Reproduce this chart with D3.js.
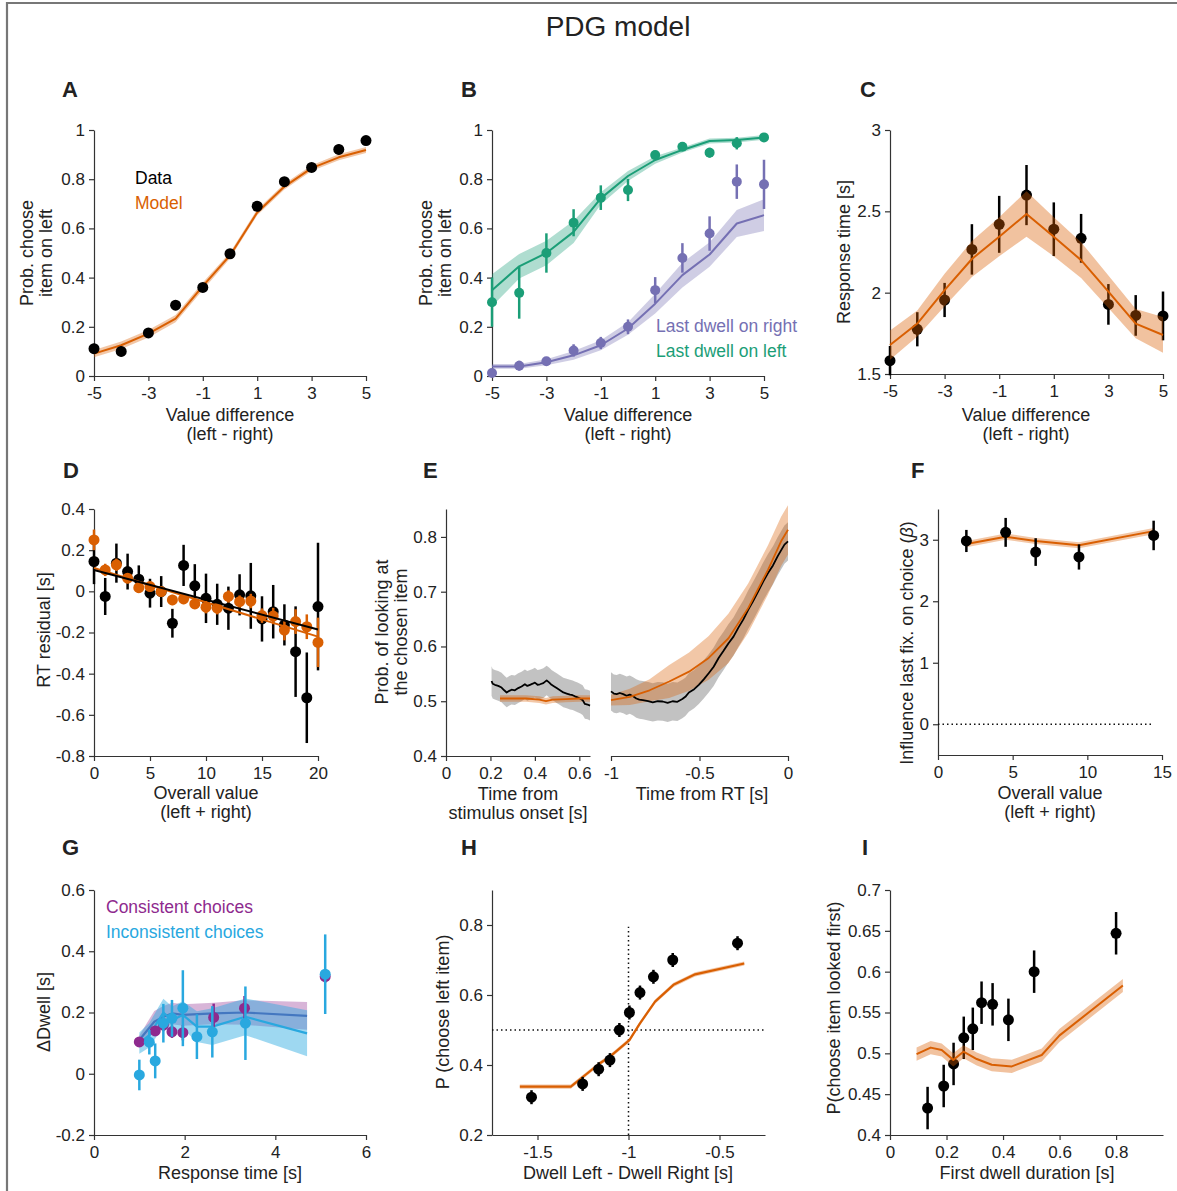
<!DOCTYPE html>
<html>
<head>
<meta charset="utf-8">
<script src="https://cdn.jsdelivr.net/npm/d3@7"></script>
<style>
  body { margin: 0; background: #fff; }
  svg { font-family: "Liberation Sans", Arial, sans-serif; }
  .axis path, .axis line { stroke: #333; stroke-width: 1.2; }
  .axis text { font-size: 17px; fill: #222; font-family: "Liberation Sans", Arial, sans-serif; }
  .lab { font-size: 18px; fill: #222; }
  .letter { font-size: 22px; font-weight: bold; fill: #222; }
</style>
</head>
<body>
<script>
// ---- data ----
const valDiff = [-5, -4, -3, -2, -1, 0, 1, 2, 3, 4, 5];
const valDiffTicks = [-5, -3, -1, 1, 3, 5];

// A
const aData = [0.111, 0.10, 0.175, 0.288, 0.36, 0.497, 0.69, 0.79, 0.848, 0.921, 0.957];
const aErr = [0.02, 0.02, 0.02, 0.02, 0.015, 0.015, 0.02, 0.015, 0.015, 0.02, 0.01];
const aModel = [0.091, 0.125, 0.172, 0.233, 0.365, 0.49, 0.665, 0.77, 0.845, 0.889, 0.919];
const aBand = [0.015, 0.015, 0.015, 0.015, 0.015, 0.012, 0.012, 0.012, 0.012, 0.012, 0.012];

// B
const bLeftData = [0.30, 0.338, 0.50, 0.623, 0.725, 0.756, 0.898, 0.932, 0.908, 0.946, 0.97];
const bLeftErr = [0.10, 0.105, 0.08, 0.055, 0.05, 0.045, 0.015, 0.015, 0.02, 0.025, 0.01];
const bLeftModel = [0.349, 0.446, 0.50, 0.586, 0.722, 0.813, 0.878, 0.919, 0.955, 0.959, 0.97];
const bLeftBand = [0.065, 0.05, 0.05, 0.045, 0.025, 0.02, 0.015, 0.01, 0.01, 0.01, 0.01];
const bRightData = [0.012, 0.042, 0.06, 0.104, 0.134, 0.20, 0.349, 0.48, 0.579, 0.79, 0.779];
const bRightErr = [0.01, 0.02, 0.015, 0.025, 0.025, 0.03, 0.053, 0.06, 0.07, 0.07, 0.10];
const bRightModel = [0.039, 0.039, 0.056, 0.084, 0.125, 0.193, 0.294, 0.41, 0.494, 0.62, 0.654];
const bRightBand = [0.01, 0.01, 0.012, 0.018, 0.02, 0.025, 0.04, 0.05, 0.05, 0.055, 0.065];

// C
const cData = [1.582, 1.775, 1.955, 2.266, 2.42, 2.60, 2.39, 2.334, 1.928, 1.86, 1.857];
const cErr = [0.09, 0.105, 0.105, 0.155, 0.175, 0.185, 0.165, 0.15, 0.125, 0.125, 0.15];
const cModel = [1.678, 1.81, 2.016, 2.207, 2.344, 2.484, 2.344, 2.20, 2.006, 1.81, 1.74];
const cBand = [0.09, 0.08, 0.10, 0.11, 0.12, 0.14, 0.12, 0.11, 0.10, 0.09, 0.11];

// D
const overall = d3.range(0, 21);
const dData = [0.145, -0.025, 0.137, 0.096, 0.059, -0.009, -0.001, -0.155, 0.126, 0.027, -0.034,
  -0.063, -0.082, -0.017, -0.022, -0.134, -0.099, -0.163, -0.293, -0.517, -0.074];
const dErr = [0.11, 0.09, 0.095, 0.087, 0.067, 0.07, 0.075, 0.07, 0.10, 0.105, 0.12,
  0.10, 0.105, 0.10, 0.16, 0.11, 0.13, 0.10, 0.22, 0.22, 0.31];
const dModel = [0.25, 0.104, 0.129, 0.064, 0.018, 0.023, -0.001, -0.042, -0.037, -0.061, -0.077,
  -0.082, -0.025, -0.05, -0.047, -0.118, -0.12, -0.188, -0.147, -0.172, -0.248];
const dModelErr = [0.05, 0.03, 0.03, 0.025, 0.025, 0.025, 0.025, 0.025, 0.025, 0.025, 0.03,
  0.03, 0.03, 0.03, 0.035, 0.035, 0.04, 0.05, 0.06, 0.06, 0.12];
const dFitX = [0, 20];
const dFitData = [0.104, -0.185];
const dFitModel = [0.113, -0.22];

// E
const eLeftT = [0.205, 0.21, 0.22, 0.235, 0.25, 0.262, 0.273, 0.285, 0.295, 0.31, 0.325, 0.34, 0.355,
  0.366, 0.378, 0.39, 0.40, 0.412, 0.423, 0.438, 0.453, 0.465, 0.475, 0.487, 0.498, 0.513, 0.528,
  0.543, 0.558, 0.57, 0.58, 0.592, 0.603, 0.615, 0.625, 0.637, 0.648];
const eLeftData = [0.537, 0.532, 0.530, 0.528, 0.525, 0.520, 0.516, 0.519, 0.521, 0.520, 0.524, 0.527, 0.531,
  0.528, 0.530, 0.532, 0.534, 0.530, 0.531, 0.533, 0.538, 0.534, 0.530, 0.527, 0.524, 0.520, 0.516,
  0.514, 0.512, 0.511, 0.509, 0.507, 0.505, 0.502, 0.495, 0.494, 0.492];
const eLeftBand = 0.027;
const eLeftModelT = [0.243, 0.30, 0.36, 0.42, 0.45, 0.48, 0.54, 0.60, 0.648];
const eLeftModel = [0.505, 0.505, 0.505, 0.503, 0.500, 0.503, 0.504, 0.505, 0.505];
const eRightT = [-1, -0.984, -0.968, -0.95, -0.931, -0.912, -0.894, -0.875, -0.857, -0.84, -0.82, -0.79,
  -0.764, -0.736, -0.708, -0.68, -0.652, -0.625, -0.597, -0.58, -0.56, -0.53, -0.504, -0.476, -0.448,
  -0.42, -0.392, -0.364, -0.336, -0.308, -0.281, -0.253, -0.225, -0.197, -0.169, -0.141, -0.113,
  -0.085, -0.058, -0.04, -0.02, 0];
const eRightData = [0.518, 0.514, 0.513, 0.515, 0.513, 0.510, 0.512, 0.509, 0.505, 0.503, 0.502, 0.500,
  0.498, 0.500, 0.4995, 0.497, 0.50, 0.499, 0.504, 0.508, 0.516, 0.522, 0.530, 0.540, 0.551,
  0.563, 0.579, 0.592, 0.606, 0.618, 0.634, 0.649, 0.667, 0.683, 0.70, 0.718, 0.734,
  0.748, 0.765, 0.775, 0.786, 0.792];
const eRightBand = 0.035;
const eRightModelT = [-1, -0.894, -0.782, -0.671, -0.559, -0.448, -0.336, -0.225, -0.113, -0.039, 0];
const eRightModel = [0.502, 0.508, 0.520, 0.536, 0.554, 0.579, 0.615, 0.67, 0.74, 0.792, 0.813];
const eRightModelBand = [0.01, 0.015, 0.02, 0.03, 0.035, 0.04, 0.045, 0.045, 0.045, 0.045, 0.045];

// F
const fX = [1.9, 4.53, 6.54, 9.44, 14.44];
const fData = [2.98, 3.12, 2.80, 2.72, 3.07];
const fErr = [0.18, 0.235, 0.225, 0.205, 0.24];
const fModel = [2.93, 3.05, 2.98, 2.91, 3.14];

// G
const gConsX = [1.0, 1.35, 1.53, 1.72, 1.96, 2.64, 3.32, 5.1];
const gConsY = [0.104, 0.14, 0.159, 0.137, 0.134, 0.184, 0.214, 0.317];
const gConsErr = [0.012, 0.015, 0.02, 0.02, 0.025, 0.045, 0.04, 0.02];
const gIncX = [1.0, 1.22, 1.35, 1.53, 1.72, 1.96, 2.27, 2.61, 3.34, 5.1];
const gIncY = [-0.004, 0.103, 0.042, 0.165, 0.181, 0.214, 0.121, 0.137, 0.165, 0.325];
const gIncErr = [0.05, 0.04, 0.057, 0.063, 0.06, 0.124, 0.073, 0.084, 0.12, 0.13];
const gConsModelX = [1.0, 1.33, 1.53, 1.72, 1.96, 2.64, 3.32, 4.7];
const gConsModel = [0.11, 0.17, 0.186, 0.197, 0.192, 0.197, 0.20, 0.189];
const gConsBand = [0.015, 0.035, 0.035, 0.035, 0.035, 0.035, 0.04, 0.045];
const gIncModelX = [1.0, 1.22, 1.53, 1.72, 1.96, 2.27, 2.61, 3.34, 4.7];
const gIncModel = [0.10, 0.126, 0.20, 0.175, 0.192, 0.154, 0.154, 0.186, 0.132];
const gIncBand = [0.035, 0.04, 0.045, 0.045, 0.045, 0.05, 0.06, 0.06, 0.075];

// H
const hX = [-1.533, -1.252, -1.164, -1.102, -1.05, -0.995, -0.937, -0.863, -0.757, -0.401];
const hData = [0.308, 0.346, 0.388, 0.414, 0.50, 0.55, 0.607, 0.652, 0.70, 0.748];
const hModelX = [-1.597, -1.317, -1.157, -1.102, -0.995, -0.937, -0.854, -0.753, -0.634, -0.364];
const hModel = [0.338, 0.338, 0.405, 0.424, 0.471, 0.519, 0.581, 0.629, 0.659, 0.69];

// I
const iX = [0.133, 0.19, 0.225, 0.261, 0.293, 0.324, 0.363, 0.419, 0.51, 0.80];
const iData = [0.433, 0.46, 0.487, 0.519, 0.530, 0.562, 0.560, 0.541, 0.60, 0.647];
const iModelX = [0.094, 0.144, 0.183, 0.224, 0.26, 0.307, 0.36, 0.431, 0.537, 0.60, 0.824];
const iModel = [0.499, 0.507, 0.504, 0.492, 0.502, 0.493, 0.486, 0.484, 0.498, 0.522, 0.583];

// colours
const orange = "#d95f02";
const green = "#1b9e77";
const purple = "#7570b3";
const magenta = "#8e2a8e";
const cyan = "#29a8df";

// ---- drawing ----
const W = 1177, H = 1191;
const svg = d3.select("body").append("svg").attr("width", W).attr("height", H);

// frame
svg.append("path").attr("d", `M7,${H} V3 H${W}`).attr("fill", "none")
  .attr("stroke", "#777").attr("stroke-width", 2.2);

svg.append("text").attr("x", 618).attr("y", 36).attr("text-anchor", "middle")
  .attr("font-size", 28).attr("fill", "#222").text("PDG model");

const val = (a, i) => (Array.isArray(a) ? a[i] : a);

function axes(xs, ys, xticks, yticks) {
  const yb = ys.range()[0];
  const xl = xs.range()[0];
  svg.append("g").attr("class", "axis").attr("transform", `translate(0,${yb})`)
    .call(d3.axisBottom(xs).tickValues(xticks).tickSize(5).tickPadding(6)
      .tickSizeOuter(0).tickFormat(d => String(d)));
  svg.append("g").attr("class", "axis").attr("transform", `translate(${xl},0)`)
    .call(d3.axisLeft(ys).tickValues(yticks).tickSize(5).tickPadding(4)
      .tickSizeOuter(0).tickFormat(d => String(d)));
}

function band(xs, ys, X, Y, B, color, op) {
  svg.append("path")
    .datum(X.map((x, i) => [x, Y[i] - val(B, i), Y[i] + val(B, i)]))
    .attr("d", d3.area().x(d => xs(d[0])).y0(d => ys(d[1])).y1(d => ys(d[2])))
    .attr("fill", color).attr("fill-opacity", op);
}

function line(xs, ys, X, Y, color, w = 2) {
  svg.append("path").datum(X.map((x, i) => [x, Y[i]]))
    .attr("d", d3.line().x(d => xs(d[0])).y(d => ys(d[1])))
    .attr("fill", "none").attr("stroke", color).attr("stroke-width", w)
    .attr("stroke-linejoin", "round");
}

function dots(xs, ys, X, Y, E, color, r = 5.5) {
  const g = svg.append("g");
  g.selectAll("line").data(X).enter().append("line")
    .attr("x1", d => xs(d)).attr("x2", d => xs(d))
    .attr("y1", (d, i) => ys(Y[i] - val(E, i))).attr("y2", (d, i) => ys(Y[i] + val(E, i)))
    .attr("stroke", color).attr("stroke-width", 2.5);
  g.selectAll("circle").data(X).enter().append("circle")
    .attr("cx", d => xs(d)).attr("cy", (d, i) => ys(Y[i])).attr("r", r).attr("fill", color);
}

function dotted(xs, ys, X, Y) {
  svg.append("path").datum(X.map((x, i) => [x, Y[i]]))
    .attr("d", d3.line().x(d => xs(d[0])).y(d => ys(d[1])))
    .attr("fill", "none").attr("stroke", "#111").attr("stroke-width", 1.5)
    .attr("stroke-dasharray", "1.5,3");
}

function ylabel(x, cy, lines) {
  lines.forEach((t, i) => {
    svg.append("text").attr("class", "lab").attr("text-anchor", "middle")
      .attr("transform", `translate(${x + i * 19},${cy}) rotate(-90)`).text(t);
  });
}

function xlabel(cx, y, lines) {
  lines.forEach((t, i) => {
    svg.append("text").attr("class", "lab").attr("text-anchor", "middle")
      .attr("x", cx).attr("y", y + i * 19).text(t);
  });
}

function letter(x, y, t) {
  svg.append("text").attr("class", "letter").attr("x", x).attr("y", y).text(t);
}

function legend(x, y, items) {
  items.forEach((it, i) => {
    svg.append("text").attr("x", x).attr("y", y + i * 24.5).attr("font-size", 17.5)
      .attr("fill", it[1]).text(it[0]);
  });
}

const probTicks = [0, 0.2, 0.4, 0.6, 0.8, 1];

// ---- A ----
{
  const xs = d3.scaleLinear().domain([-5, 5]).range([94, 366]);
  const ys = d3.scaleLinear().domain([0, 1]).range([376, 130]);
  axes(xs, ys, valDiffTicks, probTicks);
  band(xs, ys, valDiff, aModel, aBand, orange, 0.35);
  line(xs, ys, valDiff, aModel, orange);
  dots(xs, ys, valDiff, aData, aErr, "#000");
  letter(62, 97, "A");
  ylabel(33, 253, ["Prob. choose", "item on left"]);
  xlabel(230, 421, ["Value difference", "(left - right)"]);
  legend(135, 184, [["Data", "#000"], ["Model", orange]]);
}

// ---- B ----
{
  const xs = d3.scaleLinear().domain([-5, 5]).range([492, 764]);
  const ys = d3.scaleLinear().domain([0, 1]).range([376, 130]);
  axes(xs, ys, valDiffTicks, probTicks);
  band(xs, ys, valDiff, bRightModel, bRightBand, purple, 0.35);
  line(xs, ys, valDiff, bRightModel, purple);
  band(xs, ys, valDiff, bLeftModel, bLeftBand, green, 0.35);
  line(xs, ys, valDiff, bLeftModel, green);
  dots(xs, ys, valDiff, bRightData, bRightErr, purple, 5);
  dots(xs, ys, valDiff, bLeftData, bLeftErr, green, 5);
  letter(461, 97, "B");
  ylabel(432, 253, ["Prob. choose", "item on left"]);
  xlabel(628, 421, ["Value difference", "(left - right)"]);
  legend(656, 332, [["Last dwell on right", purple], ["Last dwell on left", green]]);
}

// ---- C ----
{
  const xs = d3.scaleLinear().domain([-5, 5]).range([890, 1163]);
  const ys = d3.scaleLinear().domain([1.5, 3]).range([374, 130]);
  axes(xs, ys, valDiffTicks, [1.5, 2, 2.5, 3]);
  dots(xs, ys, valDiff, cData, cErr, "#000");
  band(xs, ys, valDiff, cModel, cBand, orange, 0.38);
  line(xs, ys, valDiff, cModel, orange);
  letter(860, 97, "C");
  ylabel(850, 252, ["Response time [s]"]);
  xlabel(1026, 421, ["Value difference", "(left - right)"]);
}

// ---- D ----
{
  const xs = d3.scaleLinear().domain([0, 20]).range([94, 318]);
  const ys = d3.scaleLinear().domain([-0.8, 0.4]).range([756, 509]);
  axes(xs, ys, [0, 5, 10, 15, 20], [-0.8, -0.6, -0.4, -0.2, 0, 0.2, 0.4]);
  dots(xs, ys, overall, dData, dErr, "#000");
  dots(xs, ys, overall, dModel, dModelErr, orange);
  line(xs, ys, dFitX, dFitModel, orange);
  line(xs, ys, dFitX, dFitData, "#000");
  letter(63, 478, "D");
  ylabel(50, 630, ["RT residual [s]"]);
  xlabel(206, 799, ["Overall value", "(left + right)"]);
}

// ---- E ----
{
  const ys = d3.scaleLinear().domain([0.4, 0.851]).range([756, 509]);
  const xl = d3.scaleLinear().domain([0, 0.648]).range([446, 590]);
  const xr = d3.scaleLinear().domain([-1, 0]).range([611, 788]);
  axes(xl, ys, [0, 0.2, 0.4, 0.6], [0.4, 0.5, 0.6, 0.7, 0.8]);
  svg.append("g").attr("class", "axis").attr("transform", "translate(0,756)")
    .call(d3.axisBottom(xr).tickValues([-1, -0.5, 0]).tickSize(5).tickPadding(6)
      .tickSizeOuter(0).tickFormat(d => String(d)));
  band(xl, ys, eLeftT, eLeftData, eLeftBand, "#999", 0.6);
  band(xl, ys, eLeftModelT, eLeftModel, 0.006, orange, 0.35);
  line(xl, ys, eLeftT, eLeftData, "#000", 1.8);
  line(xl, ys, eLeftModelT, eLeftModel, orange, 1.8);
  band(xr, ys, eRightT, eRightData, eRightBand, "#999", 0.6);
  band(xr, ys, eRightModelT, eRightModel, eRightModelBand, orange, 0.35);
  line(xr, ys, eRightT, eRightData, "#000", 1.8);
  line(xr, ys, eRightModelT, eRightModel, orange, 1.8);
  letter(423, 478, "E");
  ylabel(388, 632, ["Prob. of looking at", "the chosen item"]);
  xlabel(518, 800, ["Time from", "stimulus onset [s]"]);
  xlabel(702, 800, ["Time from RT [s]"]);
}

// ---- F ----
{
  const xs = d3.scaleLinear().domain([0, 15]).range([938, 1162]);
  const ys = d3.scaleLinear().domain([-0.5, 3.5]).range([755, 509]);
  axes(xs, ys, [0, 5, 10, 15], [0, 1, 2, 3]);
  dotted(xs, ys, [0, 14.4], [0, 0]);
  band(xs, ys, fX, fModel, 0.05, orange, 0.35);
  line(xs, ys, fX, fModel, orange);
  dots(xs, ys, fX, fData, fErr, "#000");
  letter(911, 478, "F");
  const t = svg.append("text").attr("class", "lab").attr("font-size", 17).attr("text-anchor", "middle")
    .attr("transform", "translate(913,643) rotate(-90)");
  t.append("tspan").text("Influence last fix. on choice (");
  t.append("tspan").attr("font-style", "italic").text("β");
  t.append("tspan").text(")");
  xlabel(1050, 799, ["Overall value", "(left + right)"]);
}

// ---- G ----
{
  const xs = d3.scaleLinear().domain([0, 6]).range([94, 366]);
  const ys = d3.scaleLinear().domain([-0.2, 0.6]).range([1135, 890]);
  axes(xs, ys, [0, 2, 4, 6], [-0.2, 0, 0.2, 0.4, 0.6]);
  band(xs, ys, gConsModelX, gConsModel, gConsBand, magenta, 0.35);
  line(xs, ys, gConsModelX, gConsModel, "#5b4fa6", 2.2);
  band(xs, ys, gIncModelX, gIncModel, gIncBand, cyan, 0.45);
  line(xs, ys, gIncModelX, gIncModel, cyan, 2.2);
  dots(xs, ys, gConsX, gConsY, gConsErr, magenta);
  dots(xs, ys, gIncX, gIncY, gIncErr, cyan);
  letter(62, 855, "G");
  ylabel(50, 1012, ["ΔDwell [s]"]);
  xlabel(230, 1179, ["Response time [s]"]);
  legend(106, 913, [["Consistent choices", magenta], ["Inconsistent choices", cyan]]);
}

// ---- H ----
{
  const xs = d3.scaleLinear().domain([-1.75, -0.25]).range([492, 765]);
  const ys = d3.scaleLinear().domain([0.2, 0.9]).range([1135, 890]);
  axes(xs, ys, [-1.5, -1, -0.5], [0.2, 0.4, 0.6, 0.8]);
  dotted(xs, ys, [-1.75, -0.25], [0.5, 0.5]);
  dotted(xs, ys, [-1, -1], [0.2, 0.795]);
  band(xs, ys, hModelX, hModel, 0.006, orange, 0.35);
  line(xs, ys, hModelX, hModel, orange, 2.2);
  dots(xs, ys, hX, hData, 0.02, "#000");
  letter(461, 855, "H");
  ylabel(449, 1012, ["P (choose left item)"]);
  xlabel(628, 1179, ["Dwell Left - Dwell Right [s]"]);
}

// ---- I ----
{
  const xs = d3.scaleLinear().domain([0, 0.966]).range([890, 1163]);
  const ys = d3.scaleLinear().domain([0.4, 0.7]).range([1135, 890]);
  axes(xs, ys, [0, 0.2, 0.4, 0.6, 0.8], [0.4, 0.45, 0.5, 0.55, 0.6, 0.65, 0.7]);
  dots(xs, ys, iX, iData, 0.026, "#000");
  band(xs, ys, iModelX, iModel, 0.008, orange, 0.38);
  line(xs, ys, iModelX, iModel, orange, 2);
  letter(862, 855, "I");
  ylabel(840, 1008, ["P(choose item looked first)"]);
  xlabel(1027, 1179, ["First dwell duration [s]"]);
}
</script>
</body>
</html>
